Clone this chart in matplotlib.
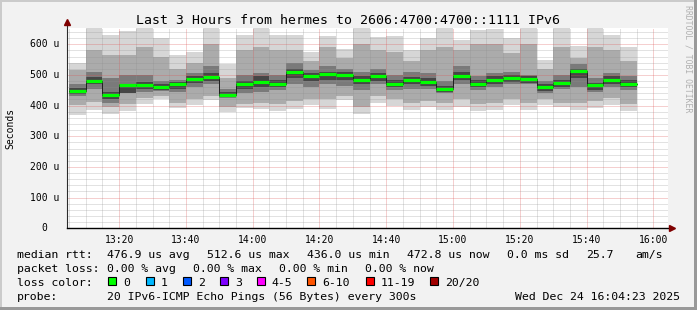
import matplotlib
matplotlib.use('Agg')
import matplotlib.pyplot as plt
import matplotlib.dates as mdates
import matplotlib.transforms as mtransforms
from matplotlib.patches import Rectangle
import numpy as np
import pandas as pd

# ---- data (round trip times in microseconds, one column per 5 minute step) ----
step_start = '2025-12-24 13:05'
n_steps = 34
rtt_median = [448, 481, 436, 467, 466, 460, 469, 486, 493, 436, 469, 478, 471, 509, 495, 502, 499,
              485, 495, 472, 482, 478, 455, 498, 471, 483, 490, 487, 462, 474, 513, 466, 483, 472]
rtt_max = [540, 653, 629, 642, 653, 620, 566, 575, 653, 537, 631, 653, 630, 630, 576, 627, 585,
           653, 625, 627, 581, 621, 653, 615, 645, 650, 620, 653, 548, 653, 595, 653, 631, 591]
rtt_min = [370, 385, 374, 381, 406, 420, 392, 403, 417, 379, 392, 388, 381, 388, 402, 390, 418,
           372, 410, 400, 385, 395, 385, 395, 382, 387, 401, 387, 403, 395, 387, 392, 403, 381]
rtt_p10 = [402, 412, 395, 405, 425, 432, 410, 420, 430, 395, 405, 410, 405, 415, 420, 420, 430,
           395, 430, 420, 410, 415, 410, 420, 405, 410, 420, 410, 420, 410, 410, 415, 425, 405]
rtt_p90 = [516, 581, 565, 565, 590, 560, 520, 540, 600, 490, 580, 590, 580, 580, 545, 590, 555,
           600, 580, 575, 545, 580, 590, 580, 600, 600, 570, 600, 520, 590, 555, 590, 580, 545]
rtt_p25 = [430, 455, 410, 440, 445, 448, 445, 462, 470, 425, 440, 445, 450, 470, 460, 470, 465,
           450, 470, 450, 455, 455, 440, 470, 450, 460, 470, 470, 440, 455, 460, 445, 460, 450]
rtt_p75 = [471, 509, 490, 500, 500, 480, 485, 505, 530, 455, 500, 505, 500, 540, 515, 530, 520,
           510, 520, 500, 510, 505, 480, 530, 495, 505, 510, 500, 480, 500, 535, 490, 505, 495]
rtt_p40 = [438, 470, 422, 440, 455, 452, 455, 475, 480, 428, 455, 460, 460, 490, 480, 485, 485,
           470, 480, 462, 470, 465, 445, 485, 460, 472, 478, 475, 448, 462, 490, 452, 472, 460]
rtt_p60 = [458, 492, 445, 472, 478, 470, 478, 497, 505, 445, 480, 495, 482, 518, 505, 510, 510,
           495, 505, 485, 492, 490, 465, 510, 482, 495, 500, 497, 470, 485, 520, 475, 495, 482]

ytick_vals = [0, 100, 200, 300, 400, 500, 600]
loss_colors = ['#00ff00', '#00b8ff', '#0059ff', '#7e00ff', '#ff00ff', '#ff5500', '#ff0000', '#a10000']
loss_labels = ['0', '1', '2', '3', '4-5', '6-10', '11-19', '20/20']

title = 'Last 3 Hours from hermes to 2606:4700:4700::1111 IPv6'
stats_row = ['476.9 us avg', '512.6 us max', '436.0 us min', '472.8 us now', '0.0 ms sd', '25.7', 'am/s']
loss_row = ['0.00 % avg', '0.00 % max', '0.00 % min', '0.00 % now']
probe_text = '20 IPv6-ICMP Echo Pings (56 Bytes) every 300s'
stamp = 'Wed Dec 24 16:04:23 2025'

# ---- figure ----
W, H = 697, 310
MONO = 'DejaVu Sans Mono'

def fx(px):
    return px / W

def fy(py):
    return 1 - py / H

fig = plt.figure(figsize=(W / 100, H / 100), dpi=100, facecolor='#f2f2f2')
ax = fig.add_axes([fx(67), fy(228.3), fx(668) - fx(67), fy(28) - fy(228.3)])
ax.set_facecolor('white')

starts = pd.date_range(step_start, periods=n_steps, freq='5min')
x = mdates.date2num(starts.to_pydatetime())
w = 5 / 1440.0

# smoke: outer pings light, inner ones dark
layers = [(rtt_min, rtt_max, '#d6d6d6'),
          (rtt_p10, rtt_p90, '#ababab'),
          (rtt_p25, rtt_p75, '#7a7a7a'),
          (rtt_p40, rtt_p60, '#464646')]
for lo, hi, col in layers:
    lo = np.array(lo)
    hi = np.array(hi)
    ax.bar(x, hi - lo, bottom=lo, width=w, align='edge', color=col, linewidth=0, zorder=1)

med = np.array(rtt_median)
ax.step(np.append(x, x[-1] + w), np.append(med, med[-1]), where='post',
        color='#1e1e1e', lw=0.7, zorder=3)
ax.hlines(med, x, x + w, colors=loss_colors[0], lw=2.3, zorder=4)

t0 = pd.Timestamp('2025-12-24 13:04:23')
ax.set_xlim(mdates.date2num(t0), mdates.date2num(t0 + pd.Timedelta('3h')))
ax.set_ylim(0, 653)

# grid
ax.xaxis.set_major_locator(mdates.MinuteLocator(byminute=[0, 20, 40]))
ax.xaxis.set_minor_locator(mdates.MinuteLocator(byminute=range(0, 60, 5)))
ax.xaxis.set_major_formatter(mdates.DateFormatter('%H:%M'))
ax.set_yticks(ytick_vals)
ax.set_yticks(np.arange(0, 653, 20), minor=True)
ax.set_yticklabels([])
ax.set_axisbelow(False)
ax.grid(which='minor', color='#8f8f8f', alpha=0.5, lw=0.72, linestyle=(0, (1, 1)))
ax.grid(which='major', color='#de5050', alpha=0.55, lw=0.72, linestyle=(0, (1, 1)))
ax.tick_params(which='both', length=0)
ax.tick_params(axis='x', pad=4.8, labelsize=7)
for lab in ax.get_xticklabels():
    lab.set_family(MONO)
for s in ax.spines.values():
    s.set_visible(False)

# axes with arrows
ax.plot([0, 0], [0, 1.03], transform=ax.transAxes, color='#2c2c2c', lw=0.8, clip_on=False, zorder=5)
ax.plot([0, 1.007], [0, 0], transform=ax.transAxes, color='#000000', lw=1.0, clip_on=False, zorder=5)
ax.plot([0], [1.03], marker='^', ms=4, color='#7f0000', transform=ax.transAxes, clip_on=False, zorder=6)
ax.plot([1.007], [0], marker='>', ms=4, color='#7f0000', transform=ax.transAxes, clip_on=False, zorder=6)

# y tick labels
ytr = ax.get_yaxis_transform()
for v in ytick_vals:
    if v:
        off = mtransforms.ScaledTranslation(-7.5 / 100, 0, fig.dpi_scale_trans)
        ax.text(0, v, f'{v} u', transform=ytr + off, ha='right', va='center',
                family=MONO, fontsize=7)
    else:
        off = mtransforms.ScaledTranslation(-22.5 / 100, 0, fig.dpi_scale_trans)
        ax.text(0, v, '0', transform=ytr + off, ha='center', va='center',
                family=MONO, fontsize=7)

fig.text(fx(10), fy(128), 'Seconds', rotation=90, ha='center', va='center', family=MONO, fontsize=7)
fig.text(fx(348.5), fy(24.5), title, ha='center', va='baseline', family=MONO, fontsize=9.5)
fig.text(fx(688), fy(5), 'RRDTOOL / TOBI OETIKER', rotation=270, ha='center', va='top',
         family=MONO, fontsize=5.9, color='#b0b0b0')

# legend block
fs = 8.25
rows_y = [258, 272, 286, 299.5]
fig.text(fx(17), fy(rows_y[0]), 'median rtt:', family=MONO, fontsize=fs, va='baseline')
for s, px in zip(stats_row, [107, 207, 307, 407, 507, 586, 635]):
    fig.text(fx(px), fy(rows_y[0]), s, family=MONO, fontsize=fs, va='baseline')

fig.text(fx(17), fy(rows_y[1]), 'packet loss:', family=MONO, fontsize=fs, va='baseline')
for s, px in zip(loss_row, [107, 193, 279, 365]):
    fig.text(fx(px), fy(rows_y[1]), s, family=MONO, fontsize=fs, va='baseline')

fig.text(fx(17), fy(rows_y[2]), 'loss color:', family=MONO, fontsize=fs, va='baseline')
for col, lab, px in zip(loss_colors, loss_labels, [108, 145.5, 183, 220, 256.5, 307, 366, 430]):
    fig.patches.append(Rectangle((fx(px), fy(285)), 8 / W, 8 / H, transform=fig.transFigure,
                                 facecolor=col, edgecolor='black', lw=0.8))
    fig.text(fx(px + 15), fy(rows_y[2]), lab, family=MONO, fontsize=fs, va='baseline')

fig.text(fx(17), fy(rows_y[3]), 'probe:', family=MONO, fontsize=fs, va='baseline')
fig.text(fx(107), fy(rows_y[3]), probe_text, family=MONO, fontsize=fs, va='baseline')
fig.text(fx(680), fy(rows_y[3]), stamp, family=MONO, fontsize=fs, va='baseline', ha='right')

# 3d-ish frame around the image
for (x0, y0, ww, hh, col) in [(0, 0, W, 2, '#cbcbcb'), (0, 0, 2, H, '#cbcbcb'),
                              (W - 3, 0, 3, H, '#999999'), (0, H - 3, W, 3, '#999999')]:
    fig.patches.append(Rectangle((fx(x0), fy(y0 + hh)), ww / W, hh / H,
                                 transform=fig.transFigure, facecolor=col, edgecolor='none'))

fig.savefig('out.png', dpi=100, facecolor=fig.get_facecolor())
